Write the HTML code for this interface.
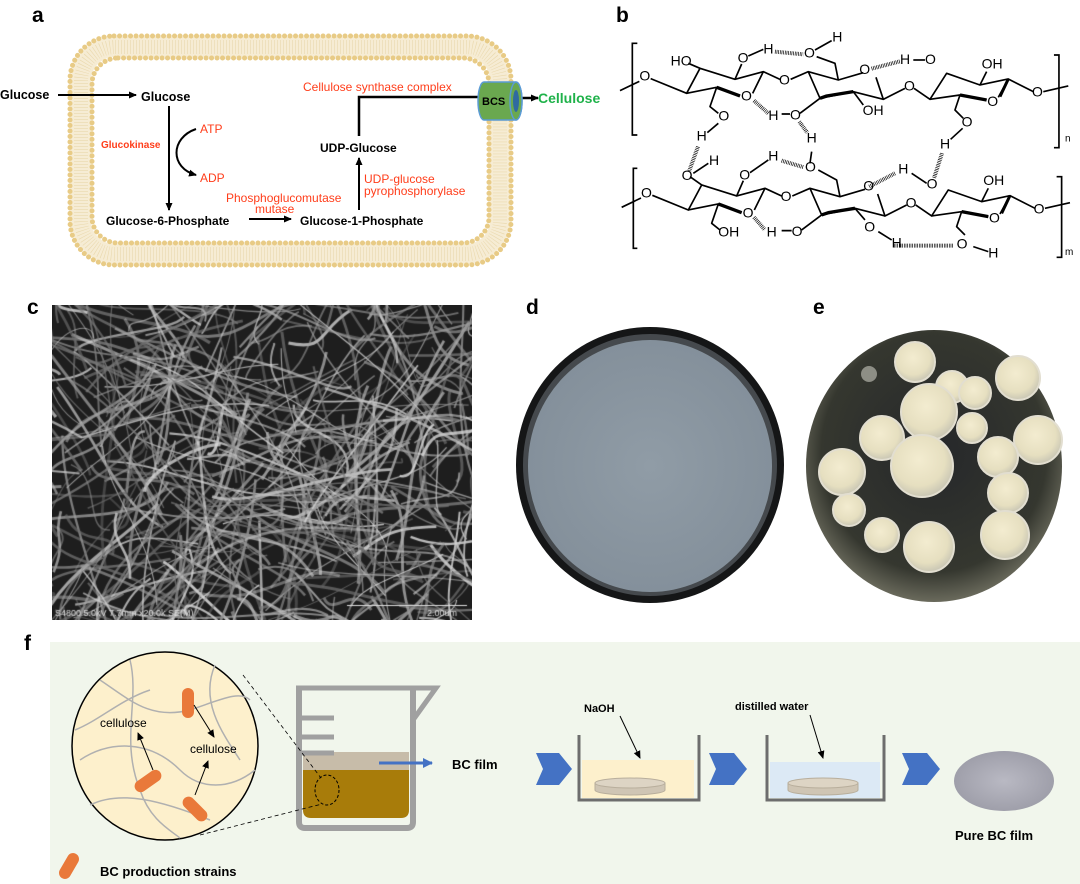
<!DOCTYPE html>
<html><head><meta charset="utf-8"><style>
html,body{margin:0;padding:0;background:#fff}
body{width:1080px;height:884px;position:relative;overflow:hidden;font-family:"Liberation Sans",Arial,sans-serif}
svg{position:absolute;left:0;top:0}
#sem{position:absolute;left:52px;top:305px}
</style></head><body>
<svg width="1080" height="884" viewBox="0 0 1080 884" font-family="Liberation Sans, Arial, sans-serif">
<defs>
<marker id="ah" markerWidth="8" markerHeight="8" refX="7" refY="4" orient="auto" markerUnits="userSpaceOnUse"><path d="M0,0.5 L8,4 L0,7.5 z" fill="#000"/></marker>
<marker id="ab" markerWidth="10" markerHeight="10" refX="9" refY="5" orient="auto" markerUnits="userSpaceOnUse"><path d="M0,0 L10,5 L0,10 z" fill="#4472c4"/></marker>
<radialGradient id="blob" cx="45%" cy="40%" r="60%"><stop offset="0" stop-color="#f3ecd0"/><stop offset="0.7" stop-color="#e6dfc0"/><stop offset="1" stop-color="#c9c6b4"/></radialGradient>
<radialGradient id="dishd" cx="50%" cy="50%" r="50%"><stop offset="0" stop-color="#909ca6"/><stop offset="1" stop-color="#84909b"/></radialGradient>
<radialGradient id="dishe" cx="50%" cy="45%" r="55%"><stop offset="0" stop-color="#25272a"/><stop offset="0.8" stop-color="#35372f"/><stop offset="1" stop-color="#6a6a5c"/></radialGradient>
<radialGradient id="pure" cx="50%" cy="50%" r="50%"><stop offset="0" stop-color="#b9b9c3"/><stop offset="1" stop-color="#9f9faa"/></radialGradient>
</defs>

<g font-weight="bold" font-size="21" fill="#000">
<text x="32" y="22">a</text><text x="616" y="22">b</text>
<text x="27" y="314">c</text><text x="526" y="314">d</text><text x="813" y="314">e</text>
<text x="24" y="650">f</text>
</g>

<!-- ===== Panel a ===== -->
<rect x="81" y="47" width="419" height="207" rx="34" fill="none" stroke="#f6ecd4" stroke-width="20"/>
<rect x="81" y="47" width="419" height="207" rx="34" fill="none" stroke="#ead9ae" stroke-width="14" stroke-dasharray="0.6 2.4"/>
<rect x="70" y="36" width="441" height="229" rx="44" fill="none" stroke="#e8cb86" stroke-width="5" stroke-linecap="round" stroke-dasharray="0.1 5.4"/>
<rect x="92" y="58" width="397" height="185" rx="26" fill="none" stroke="#e8cb86" stroke-width="5" stroke-linecap="round" stroke-dasharray="0.1 5.4"/>

<g font-size="12.5" font-weight="bold" fill="#000">
<text x="0" y="99">Glucose</text>
<text x="141" y="101">Glucose</text>
<text x="106" y="225" font-size="12">Glucose-6-Phosphate</text>
<text x="300" y="225" font-size="12">Glucose-1-Phosphate</text>
<text x="320" y="152" font-size="12">UDP-Glucose</text>
</g>
<g fill="#ff3d1a" font-size="12">
<text x="101" y="148" font-size="10" font-weight="bold">Glucokinase</text>
<text x="200" y="133">ATP</text>
<text x="200" y="182">ADP</text>
<text x="226" y="202">Phosphoglucomutase</text>
<text x="255" y="213">mutase</text>
<text x="364" y="183">UDP-glucose</text>
<text x="364" y="195">pyrophosphorylase</text>
<text x="303" y="91">Cellulose synthase complex</text>
</g>
<g stroke="#000" stroke-width="2" fill="none">
<line x1="58" y1="95" x2="136" y2="95" marker-end="url(#ah)"/>
<line x1="169" y1="106" x2="169" y2="210" marker-end="url(#ah)"/>
<path d="M196,129 C170,138 170,168 196,175" marker-end="url(#ah)"/>
<line x1="249" y1="219" x2="291" y2="219" marker-end="url(#ah)"/>
<line x1="359" y1="210" x2="359" y2="158" marker-end="url(#ah)"/>
<path d="M359,136 L359,97 L485,97" stroke-width="2.5"/>
<line x1="515" y1="98" x2="538" y2="98" stroke-width="2.5" marker-end="url(#ah)"/>
</g>
<path d="M484,82 L516,82 A6,19 0 0 1 516,120 L484,120 A6,19 0 0 1 484,82 z" fill="#6aa84f" stroke="#5b9bd5" stroke-width="1.5"/>
<ellipse cx="516" cy="101" rx="6" ry="19" fill="#6aa84f" stroke="#5b9bd5" stroke-width="1.5"/>
<ellipse cx="516" cy="101" rx="3" ry="11" fill="#2f6aa0"/>
<text x="482" y="105" font-size="11" font-weight="bold">BCS</text>
<text x="538" y="103" font-size="14" font-weight="bold" fill="#1fb24a">Cellulose</text>

<!-- ===== Panel b ===== -->
<g transform="translate(600,0) scale(0.3333)">
<g stroke="#000" stroke-width="5" fill="none" stroke-linejoin="round">
<path d="M60,272 L118,244 M152,236 L260,280 L300,205 L405,238 L490,215 L540,238 M572,238 L625,215 L715,240 L790,218 M828,232 L850,298 L915,265 M942,265 L990,298 L1040,220 L1140,255 L1225,237 L1300,275 M1330,275 L1405,258"/>
<path d="M260,280 L350,262 L420,288 M458,280 L490,215"/>
<path d="M625,215 L660,295 L760,275 L850,298"/>
<path d="M990,298 L1080,285 L1160,300 M1195,292 L1225,237"/>
<path d="M350,262 L330,320 L355,340"/>
<path d="M405,238 L425,192"/>
<path d="M715,240 L705,190 L650,170"/>
<path d="M760,275 L790,315"/>
<path d="M1140,255 L1160,215"/>
<path d="M1080,285 L1065,330 L1090,355"/>
<path d="M300,205 L265,190"/>
<path d="M660,295 L680,288 L760,275" stroke-width="10"/>
<path d="M350,262 L420,288" stroke-width="10"/>
<path d="M1080,285 L1160,300" stroke-width="10"/>
<path d="M1225,237 L1200,290" stroke-width="9"/>
<path d="M445,168 L490,148"/>
<path d="M645,150 L695,122"/>
<path d="M940,180 L975,180"/>
<path d="M545,342 L570,342 M600,340 L660,295"/>
<path d="M355,370 L322,398"/>
<path d="M1088,385 L1052,418"/>
</g>
<g stroke="#000" stroke-width="12" stroke-dasharray="2 3" fill="none">
<line x1="525" y1="155" x2="610" y2="163"/>
<line x1="815" y1="206" x2="900" y2="184"/>
<line x1="462" y1="302" x2="505" y2="340"/>
<line x1="598" y1="365" x2="622" y2="398"/>
<line x1="294" y1="440" x2="268" y2="512"/>
<line x1="1026" y1="460" x2="1002" y2="535"/>
<line x1="545" y1="482" x2="612" y2="502"/>
<line x1="808" y1="560" x2="885" y2="520"/>
<line x1="462" y1="652" x2="495" y2="690"/>
<line x1="882" y1="737" x2="1062" y2="737"/>
</g>
<g font-size="42" fill="#000">
<text x="118" y="242">O</text><text x="212" y="196">HO</text><text x="413" y="188">O</text><text x="490" y="160">H</text>
<text x="612" y="173">O</text><text x="697" y="124">H</text><text x="537" y="253">O</text><text x="423" y="302">O</text>
<text x="355" y="362">O</text><text x="290" y="422">H</text><text x="505" y="360">H</text><text x="570" y="358">O</text>
<text x="620" y="428">H</text><text x="778" y="222">O</text><text x="900" y="192">H</text><text x="975" y="192">O</text>
<text x="788" y="345">OH</text><text x="912" y="272">O</text><text x="1145" y="205">OH</text><text x="1162" y="318">O</text>
<text x="1296" y="290">O</text><text x="1085" y="380">O</text><text x="1020" y="445">H</text>
<text x="1395" y="425" font-size="30">n</text><text x="1395" y="765" font-size="30">m</text>
</g>
<path d="M112,130 L97,130 L97,405 L112,405 M1362,165 L1377,165 L1377,443 L1362,443" stroke="#000" stroke-width="5" fill="none"/>
<path d="M112,505 L100,505 L100,745 L112,745 M1370,530 L1385,530 L1385,772 L1370,772" stroke="#000" stroke-width="5" fill="none"/>
<g transform="translate(5,350)">
<g stroke="#000" stroke-width="5" fill="none" stroke-linejoin="round">
<path d="M60,272 L118,244 M152,236 L260,280 L300,205 L405,238 L490,215 L540,238 M572,238 L625,215 L715,240 L790,218 M828,232 L850,298 L915,265 M942,265 L990,298 L1040,220 L1140,255 L1225,237 L1300,275 M1330,275 L1405,258"/>
<path d="M260,280 L350,262 L420,288 M458,280 L490,215"/>
<path d="M625,215 L660,295 L760,275 L850,298"/>
<path d="M990,298 L1080,285 L1160,300 M1195,292 L1225,237"/>
<path d="M350,262 L330,320 L355,340"/>
<path d="M405,238 L425,192 M445,168 L500,130"/>
<path d="M715,240 L705,190 L650,160 M625,140 L630,105"/>
<path d="M760,275 L790,310 M830,345 L870,370"/>
<path d="M1140,255 L1160,215"/>
<path d="M1080,285 L1065,330 L1090,355 M1115,390 L1160,405"/>
<path d="M300,205 L265,180 M275,170 L320,140"/>
<path d="M660,295 L680,288 L760,275" stroke-width="10"/>
<path d="M350,262 L420,288" stroke-width="10"/>
<path d="M1080,285 L1160,300" stroke-width="10"/>
<path d="M1225,237 L1200,290" stroke-width="9"/>
<path d="M540,342 L570,342 M600,340 L660,295"/>
<path d="M930,170 L975,200"/>
</g>
<g font-size="42" fill="#000">
<text x="118" y="242">O</text><text x="240" y="190">O</text><text x="322" y="145">H</text><text x="413" y="188">O</text><text x="500" y="132">H</text>
<text x="610" y="165">O</text><text x="537" y="253">O</text><text x="423" y="302">O</text>
<text x="350" y="360">OH</text><text x="495" y="360">H</text><text x="570" y="358">O</text>
<text x="785" y="222">O</text><text x="890" y="170">H</text><text x="975" y="215">O</text>
<text x="788" y="345">O</text><text x="870" y="392">H</text><text x="912" y="272">O</text><text x="1145" y="205">OH</text><text x="1162" y="318">O</text>
<text x="1296" y="290">O</text><text x="1065" y="395">O</text><text x="1160" y="422">H</text>
</g>
</g>
</g>

<!-- ===== Panel d ===== -->
<ellipse cx="650" cy="465" rx="134" ry="138" fill="#151617"/>
<ellipse cx="650" cy="465" rx="127" ry="131" fill="#45494d"/>
<ellipse cx="650" cy="466" rx="122" ry="126" fill="url(#dishd)"/>

<!-- ===== Panel e ===== -->
<ellipse cx="934" cy="466" rx="128" ry="136" fill="url(#dishe)"/>
<g fill="url(#blob)" stroke="#e2ded0" stroke-width="2">
<circle cx="915" cy="362" r="20"/><circle cx="1018" cy="378" r="22"/><circle cx="952" cy="387" r="16"/><circle cx="975" cy="393" r="16"/>
<circle cx="929" cy="412" r="28"/><circle cx="972" cy="428" r="15"/><circle cx="882" cy="438" r="22"/><circle cx="1038" cy="440" r="24"/>
<circle cx="922" cy="466" r="31"/><circle cx="998" cy="457" r="20"/><circle cx="842" cy="472" r="23"/><circle cx="1008" cy="493" r="20"/>
<circle cx="849" cy="510" r="16"/><circle cx="882" cy="535" r="17"/><circle cx="929" cy="547" r="25"/><circle cx="1005" cy="535" r="24"/>
</g>
<circle cx="869" cy="374" r="8" fill="#c9c9c0" opacity="0.6"/>

<!-- ===== Panel f ===== -->
<rect x="50" y="642" width="1030" height="242" fill="#f1f6ec"/>
<ellipse cx="165" cy="746" rx="93" ry="94" fill="#fdf0cc" stroke="#000" stroke-width="1.5"/>
<g stroke="#b0b0b0" stroke-width="1.5" fill="none">
<path d="M100,680 C130,700 150,720 190,710 C220,700 240,690 250,700"/>
<path d="M80,760 C110,740 150,740 180,770 C200,790 230,790 255,770"/>
<path d="M90,805 C120,790 160,800 210,820"/>
<path d="M130,660 C140,700 120,740 140,790 C150,820 170,830 180,838"/>
<path d="M215,665 C200,700 220,730 240,760"/>
<path d="M75,730 C100,720 120,700 150,690"/>
</g>
<g fill="#e9793a">
<rect x="182" y="688" width="12" height="30" rx="6"/>
<rect x="142" y="766" width="12" height="30" rx="6" transform="rotate(55 148 781)"/>
<rect x="189" y="794" width="12" height="30" rx="6" transform="rotate(-45 195 809)"/>
<rect x="63" y="852" width="12" height="28" rx="6" transform="rotate(30 69 866)"/>
</g>
<g stroke="#000" stroke-width="1" fill="none">
<line x1="194" y1="705" x2="214" y2="737" marker-end="url(#ah)"/>
<line x1="153" y1="770" x2="138" y2="733" marker-end="url(#ah)"/>
<line x1="195" y1="795" x2="208" y2="761" marker-end="url(#ah)"/>
</g>
<text x="100" y="727" font-size="12">cellulose</text>
<text x="190" y="753" font-size="12">cellulose</text>
<g>
<rect x="303" y="752" width="106" height="18" fill="#c7bca9"/>
<path d="M303,770 L409,770 L409,810 Q409,818 401,818 L311,818 Q303,818 303,810 z" fill="#a87c0a"/>
<path d="M299,688 L299,822 Q299,828 305,828 L407,828 Q413,828 413,822 L413,688" fill="none" stroke="#a0a0a0" stroke-width="6"/>
<path d="M296,688 L436,688 L413,720" fill="none" stroke="#a0a0a0" stroke-width="5"/>
<g stroke="#a0a0a0" stroke-width="5"><line x1="302" y1="718" x2="334" y2="718"/><line x1="302" y1="737" x2="334" y2="737"/><line x1="302" y1="753" x2="334" y2="753"/></g>
<ellipse cx="327" cy="790" rx="12" ry="15" fill="none" stroke="#000" stroke-dasharray="3 2"/>
</g>
<g stroke="#000" stroke-width="0.8" stroke-dasharray="4 3"><line x1="243" y1="675" x2="321" y2="778"/><line x1="200" y1="835" x2="322" y2="804"/></g>
<line x1="379" y1="763" x2="432" y2="763" stroke="#4472c4" stroke-width="3" marker-end="url(#ab)"/>
<text x="452" y="769" font-size="13" font-weight="bold">BC film</text>
<g fill="#4472c4">
<path d="M536,753 L559,753 L572,769 L559,785 L536,785 L543,769 z"/>
<path d="M709,753 L734,753 L747,769 L734,785 L709,785 L716,769 z"/>
<path d="M902,753 L927,753 L940,769 L927,785 L902,785 L909,769 z"/>
</g>
<rect x="582" y="760" width="112" height="38" fill="#fdf0cc"/>
<rect x="770" y="762" width="110" height="36" fill="#dce9f5"/>
<g fill="#cfc5b4" stroke="#b8ae9c" stroke-width="1">
<path d="M595,783 L665,783 L665,790 A35,5 0 0 1 595,790 z"/><ellipse cx="630" cy="783" rx="35" ry="5" fill="#ddd4c4"/>
<path d="M788,783 L858,783 L858,790 A35,5 0 0 1 788,790 z"/><ellipse cx="823" cy="783" rx="35" ry="5" fill="#ddd4c4"/>
</g>
<g fill="none" stroke="#6d6d6d" stroke-width="3">
<path d="M579,735 L579,800 L699,800 L699,735"/><path d="M767,735 L767,800 L884,800 L884,735"/>
</g>
<text x="584" y="712" font-size="11" font-weight="bold">NaOH</text>
<text x="735" y="710" font-size="11" font-weight="bold">distilled water</text>
<g stroke="#000" stroke-width="1"><line x1="620" y1="716" x2="640" y2="758" marker-end="url(#ah)"/><line x1="810" y1="715" x2="823" y2="758" marker-end="url(#ah)"/></g>
<ellipse cx="1004" cy="781" rx="50" ry="30" fill="url(#pure)"/>
<text x="955" y="840" font-size="13" font-weight="bold">Pure BC film</text>
<text x="100" y="876" font-size="13" font-weight="bold">BC production strains</text>
</svg>
<canvas id="sem" width="420" height="315"></canvas>
<script>
(function(){
var c=document.getElementById('sem'),x=c.getContext('2d');
var s=12345;function r(){s=(s*16807)%2147483647;return s/2147483647;}
x.fillStyle='#1e1e1e';x.fillRect(0,0,420,315);
for(var i=0;i<520;i++){
 var g=Math.floor(100+r()*120);
 x.strokeStyle='rgba('+g+','+g+','+g+','+(0.45+r()*0.45)+')';
 x.lineWidth=1+r()*2.2;
 var x0=r()*460-20,y0=r()*355-20,a=r()*Math.PI*2,L=40+r()*170;
 x.beginPath();x.moveTo(x0,y0);
 x.bezierCurveTo(x0+Math.cos(a)*L*0.33+(r()-0.5)*50,y0+Math.sin(a)*L*0.33+(r()-0.5)*50,
  x0+Math.cos(a)*L*0.66+(r()-0.5)*50,y0+Math.sin(a)*L*0.66+(r()-0.5)*50,
  x0+Math.cos(a)*L,y0+Math.sin(a)*L);
 x.stroke();
}
x.fillStyle='#ddd';x.font='9px "Liberation Sans", Arial, sans-serif';
x.fillText('S4800 5.0kV 7.7mm x20.0k SE(M)',3,311);x.fillText('2.00um',375,311);
x.fillRect(295,300,120,1);
})();
</script>
</body></html>
